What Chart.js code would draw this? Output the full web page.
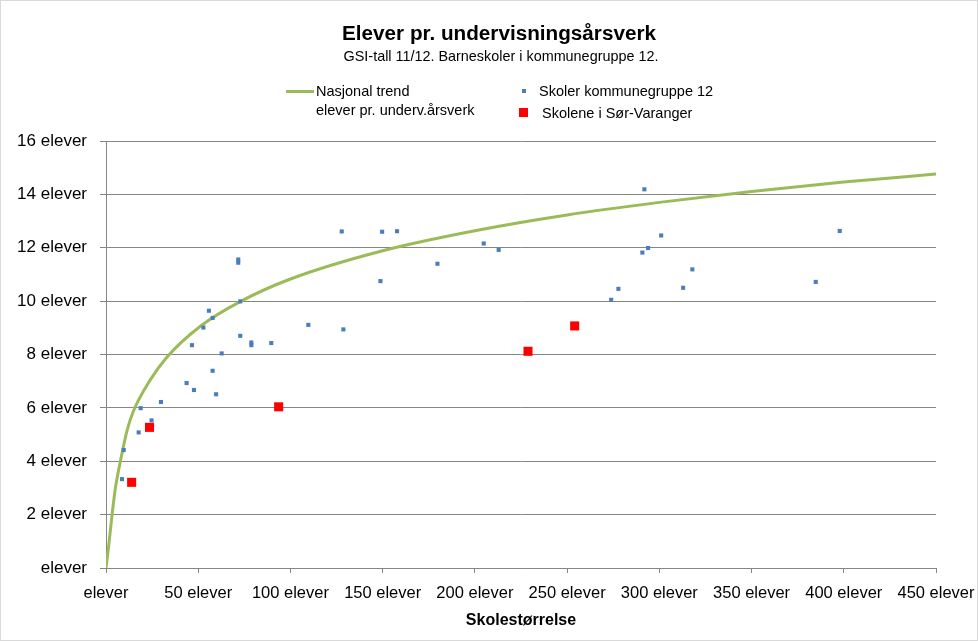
<!DOCTYPE html>
<html>
<head>
<meta charset="utf-8">
<script src="https://cdn.jsdelivr.net/npm/chart.js@4.4.0/dist/chart.umd.min.js"></script>
<style>
  html, body { margin: 0; padding: 0; background: #fff; }
  #wrap { position: relative; width: 978px; height: 641px; font-family: "Liberation Sans", sans-serif; color: #000; }
  #frame { position: absolute; left: 0; top: 0; width: 976px; height: 639px; border: 1px solid #d9d9d9; pointer-events: none; }
  canvas { position: absolute; left: 0; top: 0; }
  .txt { position: absolute; white-space: nowrap; line-height: 1; }
  #title { left: 0; width: 998px; text-align: center; top: 23px; font-size: 20.7px; font-weight: bold; }
  #subtitle { left: 0; width: 1002px; text-align: center; top: 49px; font-size: 14.4px; }
  .leg { font-size: 14.5px; }
  .swatch { position: absolute; }
</style>
</head>
<body>
<div id="wrap">
  <canvas id="chart" width="978" height="641"></canvas>
  <div id="title" class="txt">Elever pr. undervisningsårsverk</div>
  <div id="subtitle" class="txt">GSI-tall 11/12. Barneskoler i kommunegruppe 12.</div>

  <div class="swatch" style="left:286px; top:89.5px; width:28px; height:3px; background:#9bbb59;"></div>
  <div class="txt leg" style="left:316px; top:84px;">Nasjonal trend</div>
  <div class="txt leg" style="left:316px; top:103px;">elever pr. underv.årsverk</div>

  <div class="swatch" style="left:522px; top:89px; width:4px; height:4px; background:#4a7ebb;"></div>
  <div class="txt leg" style="left:539px; top:84px;">Skoler kommunegruppe 12</div>

  <div class="swatch" style="left:519px; top:108px; width:9px; height:9px; background:#ff0000;"></div>
  <div class="txt leg" style="left:542px; top:106px;">Skolene i Sør-Varanger</div>

  <div id="frame"></div>
</div>
<script>
// Skoler kommunegruppe 12 (skolestørrelse, elever pr. årsverk)
const schoolSize = [8.7, 9.6, 17.7, 18.8, 24.7, 29.8, 43.7, 46.6, 47.7, 52.8, 55.8, 57.8, 57.8, 59.7, 62.7,
  71.7, 71.7, 72.8, 72.8, 78.8, 78.8, 89.6, 109.7, 127.8, 128.7, 148.8, 149.7, 157.8, 179.7, 204.8, 212.9,
  273.9, 277.8, 290.8, 291.9, 293.9, 301.0, 312.9, 317.9, 384.8, 397.8];
const schoolRatio = [3.33, 4.42, 5.08, 5.99, 5.53, 6.22, 6.93, 8.35, 6.67, 9.01, 9.64, 9.37, 7.39, 6.51, 8.04,
  11.56, 11.44, 9.99, 8.70, 8.45, 8.35, 8.43, 9.11, 12.61, 8.94, 10.75, 12.60, 12.62, 11.40, 12.16, 11.92,
  10.05, 10.46, 11.82, 14.19, 11.99, 12.46, 10.50, 11.19, 10.72, 12.63];

// Skolene i Sør-Varanger
const svSize = [13.9, 23.6, 93.6, 228.8, 254.1];
const svRatio = [3.21, 5.27, 6.04, 8.12, 9.07];

// Nasjonal trend, punkter lest av kurven
const trendSize = [0, 1.4, 3.3, 5, 7.8, 11.4, 15, 24, 33, 51, 73, 100, 150, 200, 250, 300, 350, 400, 450];
const trendRatio = [0, 0.8, 2.0, 2.95, 4.0, 5.15, 5.9, 7.05, 7.9, 9.05, 9.99, 10.83, 11.89, 12.64, 13.23, 13.70, 14.11, 14.46, 14.76];

const yTicks = [0, 2, 4, 6, 8, 10, 12, 14, 16];
const xTicks = [0, 50, 100, 150, 200, 250, 300, 350, 400, 450];
const unit = 'elever';

const toPoints = (xs, ys) => xs.map((x, i) => ({ x: x, y: ys[i] }));
const fmt = (v) => (v === 0 ? unit : v + ' ' + unit);
const fontFamily = '"Liberation Sans", sans-serif';
const gridColor = '#868686';

new Chart(document.getElementById('chart'), {
  type: 'scatter',
  data: {
    datasets: [
      {
        label: 'Skolene i Sør-Varanger',
        data: toPoints(svSize, svRatio),
        pointStyle: 'rect',
        pointRadius: 6.4,
        backgroundColor: '#ff0000',
        borderWidth: 0,
        order: 1,
      },
      {
        label: 'Skoler kommunegruppe 12',
        data: toPoints(schoolSize, schoolRatio),
        pointStyle: 'rect',
        pointRadius: 2.9,
        backgroundColor: '#4a7ebb',
        borderWidth: 0,
        order: 2,
      },
      {
        label: 'Nasjonal trend',
        data: toPoints(trendSize, trendRatio),
        showLine: true,
        pointRadius: 0,
        borderColor: '#9bbb59',
        borderWidth: 3,
        cubicInterpolationMode: 'monotone',
        fill: false,
        order: 3,
      },
    ],
  },
  options: {
    responsive: false,
    animation: false,
    layout: { padding: { top: 141, right: 42, bottom: 10, left: 0 } },
    plugins: {
      legend: { display: false },
      tooltip: { enabled: false },
    },
    scales: {
      x: {
        type: 'linear',
        min: 0,
        max: 450,
        afterBuildTicks: (scale) => { scale.ticks = xTicks.map((v) => ({ value: v })); },
        afterFit: (scale) => {
          scale.height = 63;
          scale.paddingLeft = 0;
          scale.paddingRight = 0;
        },
        ticks: { callback: fmt, color: '#000', font: { family: fontFamily, size: 16.5 }, padding: 11, maxRotation: 0, autoSkip: false },
        grid: { drawOnChartArea: false, color: gridColor, tickLength: 5 },
        border: { color: gridColor },
        title: {
          display: true,
          text: 'Skolestørrelse',
          color: '#000',
          font: { family: fontFamily, size: 16, weight: 'bold' },
          padding: { top: 2, bottom: 1 },
        },
      },
      y: {
        type: 'linear',
        min: 0,
        max: 16,
        afterBuildTicks: (scale) => { scale.ticks = yTicks.map((v) => ({ value: v })); },
        afterFit: (scale) => { scale.width = 106; },
        ticks: { callback: fmt, color: '#000', font: { family: fontFamily, size: 17 }, padding: 13 },
        grid: { color: gridColor, tickLength: 6 },
        border: { color: gridColor },
      },
    },
  },
});
</script>
</body>
</html>
